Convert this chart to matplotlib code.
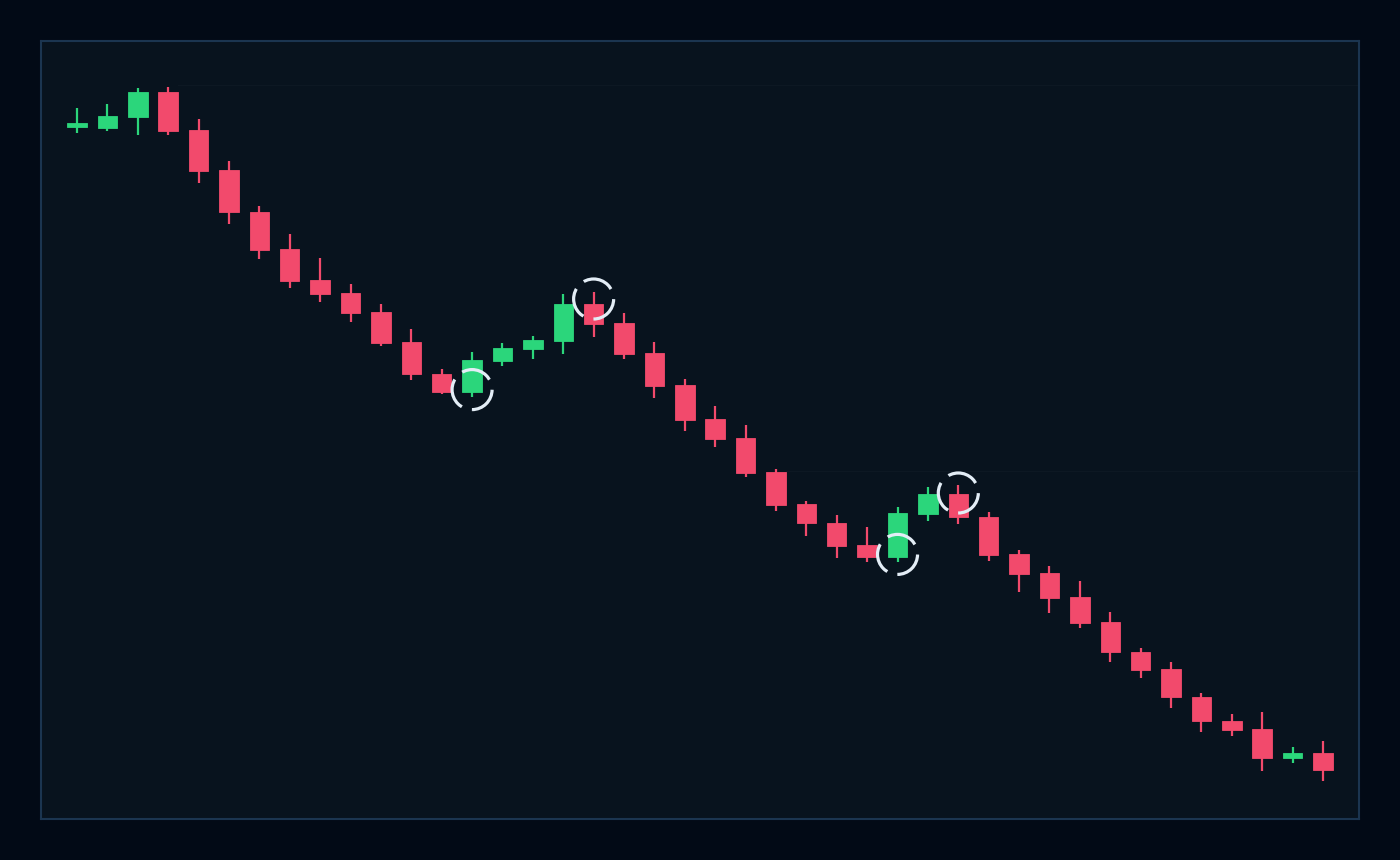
import matplotlib
matplotlib.use("Agg")
from matplotlib import pyplot as plt
from matplotlib import patches

# OHLC (arbitrary price units)
opens = [193.2, 193.1, 195.8, 201.9, 192.4, 182.4, 172.0, 162.7, 155.0, 151.7,
         146.9, 139.4, 131.6, 127.1, 134.8, 137.8, 139.7, 149.0, 144.2, 136.7,
         128.7, 120.2, 115.5, 107.1, 98.9, 94.3, 88.75, 85.7, 96.5, 101.4,
         95.8, 86.5, 81.8, 75.7, 69.4, 62.1, 57.75, 50.8, 44.8, 42.7,
         35.5, 36.8]
highs = [197.9, 199.0, 202.9, 203.3, 195.2, 184.7, 173.4, 166.4, 160.6, 154.0,
         148.9, 142.8, 132.8, 137.0, 139.2, 141.0, 151.4, 152.0, 146.8, 139.5,
         130.3, 123.4, 118.7, 107.8, 99.75, 96.2, 93.2, 98.2, 103.2, 103.7,
         96.9, 87.5, 83.5, 79.8, 72.0, 62.9, 59.6, 51.7, 46.4, 47.1,
         38.2, 39.75]
lows = [191.8, 192.3, 191.3, 191.3, 179.3, 169.0, 160.3, 152.9, 149.4, 144.5,
        138.5, 130.0, 126.5, 125.8, 133.6, 135.3, 136.6, 140.7, 135.3, 125.5,
        117.3, 113.3, 105.7, 97.2, 90.9, 85.6, 84.6, 84.6, 94.8, 94.0,
        84.8, 77.1, 71.7, 67.9, 59.5, 55.6, 47.9, 42.0, 40.9, 32.3,
        34.2, 29.8]
closes = [194.2, 196.0, 201.9, 192.3, 182.3, 171.9, 162.5, 154.8, 151.4, 146.7,
          139.3, 131.4, 127.1, 135.0, 138.0, 140.0, 148.9, 143.9, 136.5, 128.5,
          120.0, 115.3, 106.8, 98.7, 94.2, 88.6, 85.7, 96.7, 101.4, 95.7,
          86.25, 81.6, 75.6, 69.2, 61.9, 57.5, 50.7, 44.7, 42.5, 35.4,
          36.8, 32.5]

# highlighted swing points (candle index, price)
marker_idx = [13, 17, 27, 29]
marker_price = [127.6, 150.25, 86.4, 101.75]

# faint horizontal levels (start candle, price)
level_start = [3, 23]
level_price = [203.7, 107.2]

UP = "#2bd67b"
DOWN = "#f24a6c"
BG_OUT = "#020a16"
BG_IN = "#08131e"

fig = plt.figure(figsize=(14, 8.6), dpi=100, facecolor=BG_OUT)
ax = fig.add_axes([41 / 1400, 41 / 860, 1318 / 1400, 778 / 860])
ax.set_facecolor(BG_IN)

body_w = 0.64
for i in range(len(opens)):
    o, h, l, c = opens[i], highs[i], lows[i], closes[i]
    color = UP if c >= o else DOWN
    ax.plot([i, i], [l, h], color=color, linewidth=1.6, solid_capstyle="butt", zorder=2)
    bottom = min(o, c)
    height = max(abs(c - o), 0.6)
    ax.add_patch(patches.Rectangle((i - body_w / 2, bottom), body_w, height,
                                   facecolor=color, edgecolor=color, linewidth=0.6, zorder=3))

for s, p in zip(level_start, level_price):
    ax.plot([s + body_w / 2, len(opens) + 1.2], [p, p], color="#ffffff", alpha=0.025,
            linewidth=0.8, zorder=1)

# dashed rings: three arcs per circle
ax.scatter(marker_idx, marker_price, s=830, facecolors="none", edgecolors="#e3edf6",
           linewidths=2.3, linestyle=(0, (9.8, 3.3)), zorder=5)

ax.set_xlim(-1.185, len(opens) - 1 + 1.185)
ax.set_ylim(20.25, 214.75)
ax.set_xticks([])
ax.set_yticks([])
for sp in ax.spines.values():
    sp.set_color("#1b3550")
    sp.set_linewidth(1.5)

fig.savefig("out.png", dpi=100, facecolor=BG_OUT)
